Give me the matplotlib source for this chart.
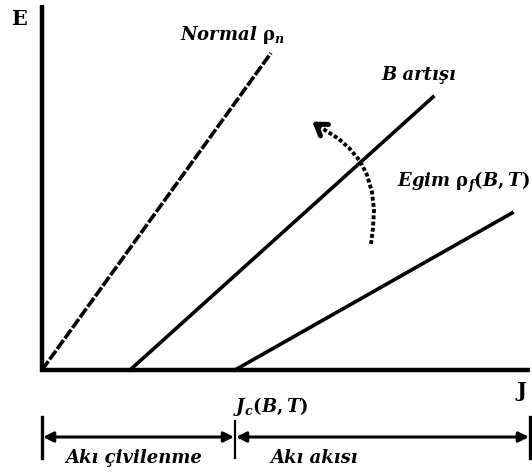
import matplotlib
matplotlib.use("Agg")
import matplotlib.pyplot as plt
import numpy as np

plt.rcParams["mathtext.fontset"] = "custom"
plt.rcParams["mathtext.it"] = "DejaVu Serif:italic:bold"
plt.rcParams["mathtext.rm"] = "DejaVu Serif:bold"
plt.rcParams["mathtext.bf"] = "DejaVu Serif:bold"

# Data (pixel-like diagram coordinates, y measured downward)
normal_line = ([42, 271], [370, 53])
b_line = ([130, 433], [370, 97])
f_line = ([235, 512], [370, 213])
curve_x = [371, 373, 374, 372, 367, 360, 350, 339, 328, 320]
curve_y = [244, 228, 210, 192, 175, 161, 149, 139, 132, 127]
jc_x = 235

fig = plt.figure(figsize=(5.32, 4.72), dpi=100)
ax = fig.add_axes([0, 0, 1, 1])
ax.set_xlim(0, 532)
ax.set_ylim(472, 0)
ax.axis("off")

serif = "DejaVu Serif"
lab = dict(fontfamily=serif, fontweight="bold", style="italic", fontsize=13,
           ha="center", va="center")

# axes
ax.plot([42, 42], [5, 372], color="black", lw=3.2, solid_capstyle="butt")
ax.plot([40, 530], [370, 370], color="black", lw=3.2, solid_capstyle="butt")

# lines
ax.plot(*normal_line, color="black", lw=2.6, ls=(0, (3, 0.6)))
ax.plot(*b_line, color="black", lw=2.6)
ax.plot(*f_line, color="black", lw=2.6)

# curved dotted arrow
ax.plot(curve_x, curve_y, color="black", lw=2.8, ls=(0, (1, 0.6)))
ax.annotate("", xy=(310, 120), xytext=(curve_x[-1], curve_y[-1]),
            arrowprops=dict(arrowstyle="->,head_length=0.75,head_width=0.5",
                            color="black", lw=3.6))

# labels
ax.text(19, 19, "E", fontfamily=serif, fontweight="bold", fontsize=15, ha="center", va="center")
ax.text(521, 391, "J", fontfamily=serif, fontweight="bold", fontsize=15, ha="center", va="center")
ax.text(232, 35, r"Normal $\mathrm{\rho}_n$", **lab)
ax.text(419, 75, "B artışı", **lab)
ax.text(463, 182, r"Egim $\mathrm{\rho}_f(B,T)$", **lab)
ax.text(271, 406, r"$J_c(B,T)$", fontsize=13, ha="center", va="center")

# bottom dimension line
yb = 437
for x, h0, h1, w in [(42, 417, 458, 2.4), (jc_x, 421, 458, 1.6), (530, 417, 458, 2.4)]:
    ax.plot([x, x], [h0, h1], color="black", lw=w)
ap = dict(arrowstyle="<|-|>,head_length=0.6,head_width=0.3", color="black", lw=2.2,
          shrinkA=0, shrinkB=0)
ax.annotate("", xy=(43, yb), xytext=(jc_x - 1, yb), arrowprops=ap)
ax.annotate("", xy=(jc_x + 1, yb), xytext=(529, yb), arrowprops=ap)
ax.text(134, 458, "Akı çivilenme", **lab)
ax.text(314, 458, "Akı akısı", **lab)

fig.savefig("out.png", dpi=100)
